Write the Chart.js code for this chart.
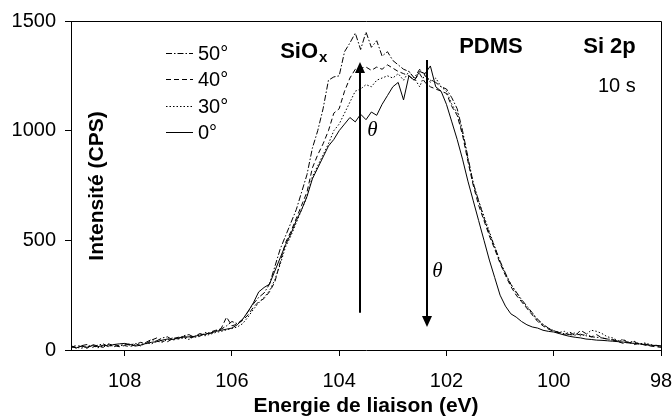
<!DOCTYPE html>
<html>
<head>
<meta charset="utf-8">
<script src="https://cdn.jsdelivr.net/npm/chart.js@4.4.1/dist/chart.umd.min.js"></script>
<style>
    html, body { margin: 0; padding: 0; background: #fff; }
    #wrap { width: 672px; height: 417px; }
</style>
</head>
<body>
<div id="wrap"><canvas id="xpsChart" width="672" height="417"></canvas></div>
<script>
// Binding energy (eV), 109 -> 98 in 0.1 eV steps
const energies = [
    109.0,108.9,108.8,108.7,108.6,108.5,108.4,108.3,108.2,108.1,
    108.0,107.9,107.8,107.7,107.6,107.5,107.4,107.3,107.2,107.1,
    107.0,106.9,106.8,106.7,106.6,106.5,106.4,106.3,106.2,106.1,
    106.0,105.9,105.8,105.7,105.6,105.5,105.4,105.3,105.2,105.1,
    105.0,104.9,104.8,104.7,104.6,104.5,104.4,104.3,104.2,104.1,
    104.0,103.9,103.8,103.7,103.6,103.5,103.4,103.3,103.2,103.1,
    103.0,102.9,102.8,102.7,102.6,102.5,102.4,102.3,102.2,102.1,
    102.0,101.9,101.8,101.7,101.6,101.5,101.4,101.3,101.2,101.1,
    101.0,100.9,100.8,100.7,100.6,100.5,100.4,100.3,100.2,100.1,
    100.0,99.9,99.8,99.7,99.6,99.5,99.4,99.3,99.2,99.1,
    99.0,98.9,98.8,98.7,98.6,98.5,98.4,98.3,98.2,98.1,
    98.0
];

// Intensity (CPS) per take-off angle
const int50 = [
    18,8,20,25,12,22,28,15,25,18,
    28,22,30,18,35,48,42,55,60,45,
    52,65,70,58,62,80,75,88,95,110,
    130,120,140,175,210,240,260,300,380,460,
    520,580,640,720,800,920,1000,1100,1230,1245,
    1250,1360,1400,1445,1370,1450,1380,1410,1340,1360,
    1320,1300,1280,1270,1240,1280,1250,1230,1220,1200,
    1190,1150,1100,1000,880,760,680,600,530,470,
    405,350,300,265,230,200,170,140,118,100,
    88,80,74,70,68,72,65,60,58,55,
    50,48,40,45,32,38,25,28,20,22,
    18
];
const int40 = [
    10,22,15,8,25,18,12,28,20,15,
    20,15,25,35,28,45,55,40,38,52,
    58,62,55,60,75,70,82,90,98,150,
    110,118,135,160,195,220,235,265,310,400,
    490,540,600,660,720,830,890,940,1000,1080,
    1100,1180,1240,1280,1285,1290,1275,1290,1280,1300,
    1285,1270,1260,1250,1230,1260,1220,1200,1190,1180,
    1170,1110,1070,980,860,750,660,590,520,460,
    395,340,290,250,220,190,160,130,110,95,
    85,78,70,82,65,90,75,60,70,55,
    50,45,38,30,35,25,30,22,18,15,
    12
];
const int30 = [
    20,12,8,15,22,10,18,25,15,20,
    22,28,20,25,32,28,40,35,48,55,
    50,55,48,62,70,65,72,80,85,92,
    98,105,120,150,185,215,240,270,320,390,
    470,520,580,640,700,790,840,890,940,1000,
    1030,1080,1130,1180,1190,1210,1200,1230,1240,1250,
    1240,1260,1230,1270,1240,1200,1260,1220,1240,1200,
    1180,1120,1080,990,870,760,680,610,540,470,
    400,345,300,260,225,195,165,135,115,98,
    88,80,85,72,78,65,70,90,85,75,
    60,55,42,48,35,40,28,32,25,20,
    15
];
const int0 = [
    15,10,18,12,20,15,22,18,25,28,
    30,25,18,22,30,35,38,45,50,48,
    55,58,60,62,68,72,78,85,90,95,
    100,115,140,175,215,265,285,300,360,420,
    480,530,590,640,700,780,830,880,930,960,
    1000,1030,1060,1040,1075,1050,1085,1070,1120,1160,
    1200,1220,1140,1250,1230,1270,1260,1295,1200,1180,
    1120,1040,960,870,770,680,590,500,410,330,
    250,200,165,150,130,115,105,100,90,85,
    82,75,68,62,58,55,50,48,45,44,
    42,40,38,36,32,30,28,25,22,20,
    18
];

const angleLabels = ['50°', '40°', '30°', '0°'];
const xTicks = [108, 106, 104, 102, 100, 98];
const yTicks = [0, 500, 1000, 1500];

// line styles per series
const dashes = [[6, 2, 1.5, 2], [5, 3], [1.5, 2], []];

const FONT = "'Liberation Sans', Arial, sans-serif";

function toPoints(vals) {
    return vals.map((v, i) => ({ x: energies[i], y: v }));
}

// Annotations: frame, legend, labels, arrows
const annotate = {
    id: 'annotate',
    afterDatasetsDraw(chart) {
        const ctx = chart.ctx;
        const area = chart.chartArea;
        const xs = chart.scales.x, ys = chart.scales.y;
        ctx.save();

        // frame (top + right)
        ctx.strokeStyle = '#000';
        ctx.lineWidth = 1;
        ctx.setLineDash([]);
        ctx.beginPath();
        ctx.moveTo(area.left, area.top + 0.5);
        ctx.lineTo(area.right + 0.5, area.top + 0.5);
        ctx.lineTo(area.right + 0.5, area.bottom);
        ctx.stroke();

        // legend
        ctx.fillStyle = '#000';
        ctx.font = '20px ' + FONT;
        ctx.textAlign = 'left';
        ctx.textBaseline = 'middle';
        chart.data.datasets.forEach((ds, i) => {
            const y = Math.round(area.top + 32 + i * 26.4) + 0.5;
            ctx.setLineDash(ds.borderDash || []);
            ctx.beginPath();
            ctx.moveTo(area.left + 95, y);
            ctx.lineTo(area.left + 122, y);
            ctx.stroke();
            ctx.setLineDash([]);
            ctx.fillText(ds.label, area.left + 127, y + 1);
        });

        // arrows (data coords)
        function arrow(e, from, to) {
            const x = Math.round(xs.getPixelForValue(e));
            const y1 = ys.getPixelForValue(from);
            const y2 = ys.getPixelForValue(to);
            const dir = y2 < y1 ? 1 : -1;
            ctx.lineWidth = 2;
            ctx.beginPath();
            ctx.moveTo(x, y1);
            ctx.lineTo(x, y2 + dir * 8);
            ctx.stroke();
            ctx.beginPath();
            ctx.moveTo(x, y2);
            ctx.lineTo(x - 5, y2 + dir * 11);
            ctx.lineTo(x + 5, y2 + dir * 11);
            ctx.closePath();
            ctx.fill();
        }
        arrow(103.62, 170, 1313);
        arrow(102.36, 1322, 105);

        // theta labels
        ctx.font = 'italic 21px "Liberation Serif", serif';
        ctx.textAlign = 'center';
        ctx.textBaseline = 'middle';
        ctx.fillText('θ', xs.getPixelForValue(103.38), ys.getPixelForValue(1000));
        ctx.fillText('θ', xs.getPixelForValue(102.17), ys.getPixelForValue(360));

        // peak labels
        ctx.textBaseline = 'alphabetic';
        ctx.textAlign = 'left';
        ctx.font = 'bold 22px ' + FONT;
        const sx = xs.getPixelForValue(105.1), sy = ys.getPixelForValue(1331);
        ctx.fillText('SiO', sx, sy);
        const w = ctx.measureText('SiO').width;
        ctx.font = 'bold 15px ' + FONT;
        ctx.fillText('x', sx + w + 1, sy + 4);

        ctx.font = 'bold 22px ' + FONT;
        ctx.textAlign = 'center';
        ctx.fillText('PDMS', xs.getPixelForValue(101.17), ys.getPixelForValue(1354));
        ctx.textAlign = 'right';
        ctx.fillText('Si 2p', xs.getPixelForValue(98.47), ys.getPixelForValue(1354));
        ctx.font = '20px ' + FONT;
        ctx.fillText('10 s', xs.getPixelForValue(98.47), ys.getPixelForValue(1176));

        // axis titles
        ctx.font = 'bold 21px ' + FONT;
        ctx.textAlign = 'center';
        ctx.fillText('Energie de liaison (eV)', (area.left + area.right) / 2, 412);
        ctx.translate(97, 186);
        ctx.rotate(-Math.PI / 2);
        ctx.textBaseline = 'middle';
        ctx.fillText('Intensité (CPS)', 0, 0);

        ctx.restore();
    }
};

const series = [int50, int40, int30, int0];

new Chart(document.getElementById('xpsChart'), {
    type: 'line',
    data: {
        datasets: series.map((vals, i) => ({
            label: angleLabels[i],
            data: toPoints(vals),
            borderColor: '#000',
            borderWidth: 1,
            borderDash: dashes[i],
            pointRadius: 0,
            tension: 0,
            fill: false
        }))
    },
    options: {
        responsive: false,
        animation: false,
        devicePixelRatio: 1,
        layout: { padding: { top: 21, right: 11, left: 0, bottom: 0 } },
        plugins: {
            legend: { display: false },
            tooltip: { enabled: false }
        },
        scales: {
            x: {
                type: 'linear',
                reverse: true,
                min: 98,
                max: 109,
                afterBuildTicks: s => { s.ticks = xTicks.map(v => ({ value: v })); },
                afterFit: s => { s.height = 67; s.paddingLeft = 0; s.paddingRight = 0; },
                grid: { drawOnChartArea: false, tickLength: 6, color: '#000' },
                border: { color: '#000', width: 1 },
                ticks: { color: '#000', padding: 13, font: { family: FONT, size: 20 }, maxRotation: 0, callback: v => String(v) }
            },
            y: {
                min: 0,
                max: 1500,
                afterBuildTicks: s => { s.ticks = yTicks.map(v => ({ value: v })); },
                afterFit: s => { s.width = 71; s.paddingTop = 0; s.paddingBottom = 0; },
                grid: { drawOnChartArea: false, tickLength: 6, color: '#000' },
                border: { color: '#000', width: 1 },
                ticks: { color: '#000', padding: 9, font: { family: FONT, size: 20 }, callback: v => String(v) }
            }
        }
    },
    plugins: [annotate]
});
</script>
</body>
</html>
